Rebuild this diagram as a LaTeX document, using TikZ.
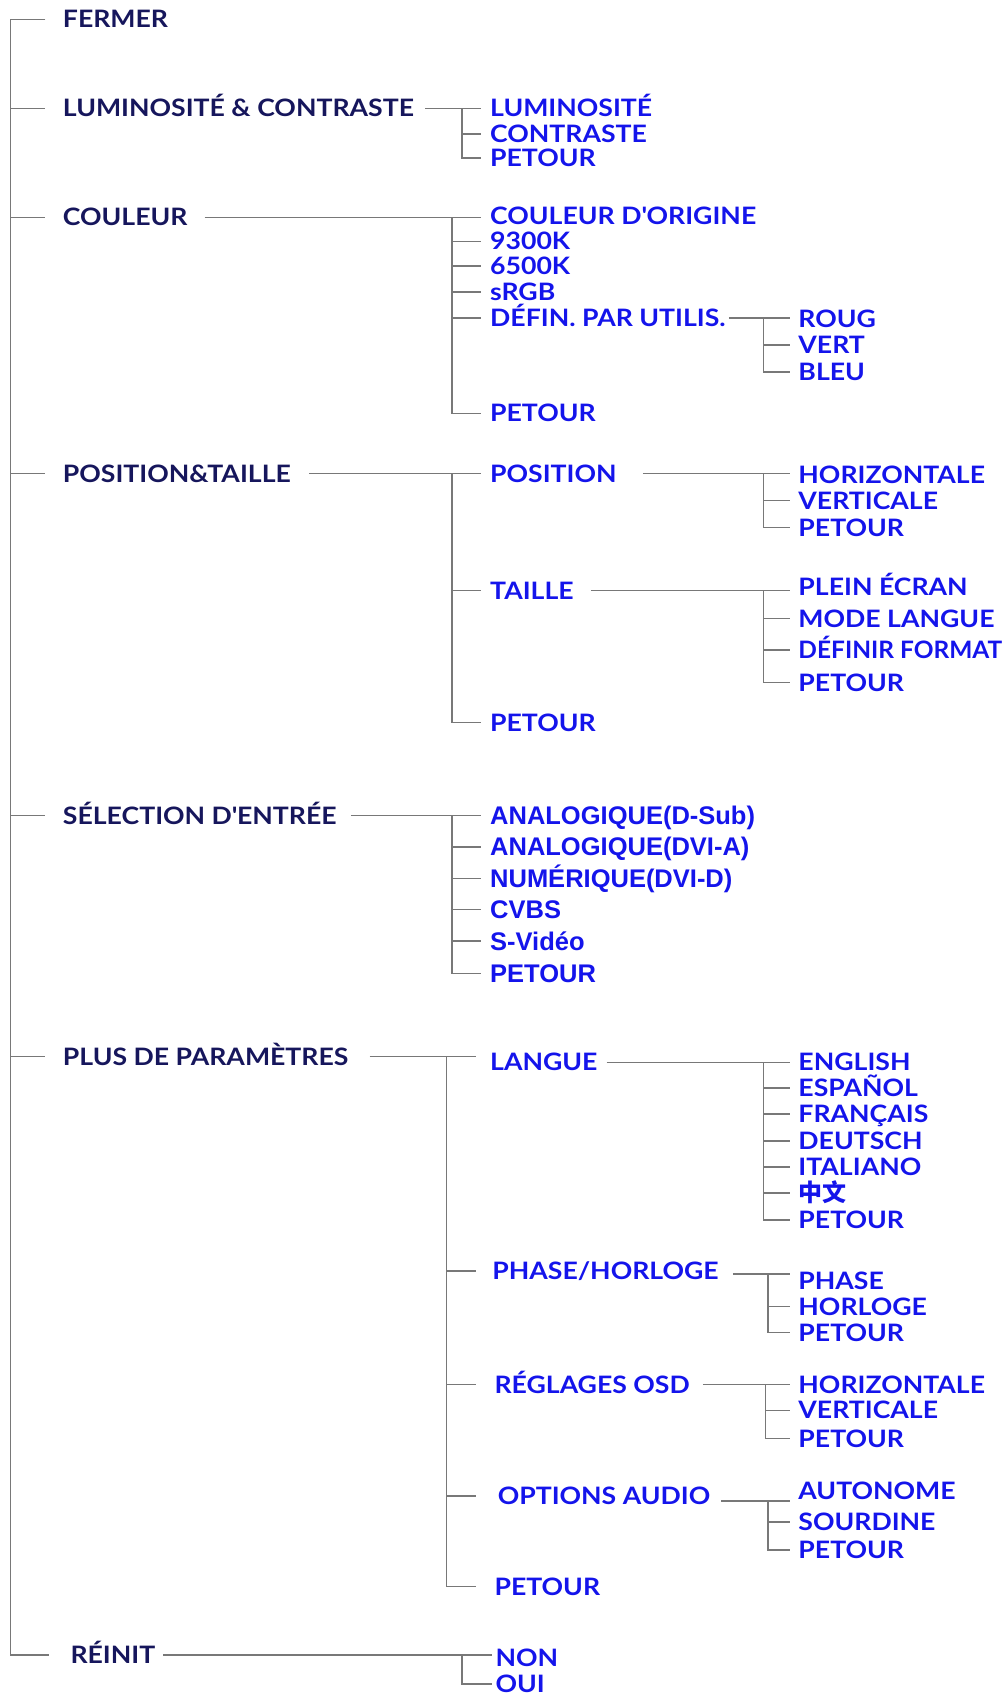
\documentclass[tikz,border=0pt]{standalone}
\usepackage{fontspec}
\newfontfamily\gill{Lato}[FakeStretch=1.11]
\newfontfamily\gillN{Lato}[FakeStretch=1.02]
\newfontfamily\arialf{Liberation Sans}
\newfontfamily\cjk{Noto Sans CJK SC}
\definecolor{navy}{RGB}{22,22,92}
\definecolor{menublue}{RGB}{20,20,235}
\definecolor{lncol}{RGB}{120,120,120}
\tikzset{
  ln/.style={draw=lncol, line width=1.3pt},
  lvA/.style={anchor=west, inner sep=0pt, text height=17pt, text depth=0pt, text=navy, font=\gill\bfseries\fontsize{24pt}{24pt}\selectfont},
  lvB/.style={anchor=west, inner sep=0pt, text height=17pt, text depth=0pt, text=menublue, font=\gill\bfseries\fontsize{24pt}{24pt}\selectfont},
  lvC/.style={anchor=west, inner sep=0pt, text height=18pt, text depth=0pt, text=menublue, font=\arialf\bfseries\fontsize{25.5pt}{25.5pt}\selectfont},
}
\begin{document}
\begin{tikzpicture}[x=1.0817pt, y=-1.0817pt]
\useasboundingbox (0,0) rectangle (930,1568);
% junction / tick-end columns
\coordinate (J0) at (10,0);   \coordinate (E0) at (42,0);  \coordinate (E0r) at (45,0);
\coordinate (J1) at (427,0);  \coordinate (E1) at (445,0);
\coordinate (J2) at (418,0);  \coordinate (E2) at (445,0);
\coordinate (J3) at (706,0);  \coordinate (E3) at (730,0);
\coordinate (J4) at (413,0);  \coordinate (E4) at (440,0);
\coordinate (J5) at (710,0);  \coordinate (J6) at (708,0);
\coordinate (E5) at (455,0);

% level 1
\node[lvA] (fer)  at (58,18)   {FERMER};
\node[lvA] (lum)  at (58,100)  {LUMINOSITÉ \& CONTRASTE};
\node[lvA] (cou)  at (58,201)  {COULEUR};
\node[lvA] (pos)  at (58,438)  {POSITION\&TAILLE};
\node[lvA] (sel)  at (58,754)  {SÉLECTION D\textquotesingle ENTRÉE};
\node[lvA] (plus) at (58,977)  {PLUS DE PARAMÈTRES};
\node[lvA] (rei)  at (65,1530) {RÉINIT};

% luminosite
\node[lvB] (lum1) at (453,100) {LUMINOSITÉ};
\node[lvB] (lum2) at (453,124) {CONTRASTE};
\node[lvB] (lum3) at (453,146) {PETOUR};

% couleur
\node[lvB] (c1) at (453,200) {COULEUR D\textquotesingle ORIGINE};
\node[lvB] (c2) at (453,223) {9300K};
\node[lvB] (c3) at (453,246) {6500K};
\node[lvB] (c4) at (453,270) {sRGB};
\node[lvB] (c5) at (453,294) {DÉFIN. PAR UTILIS.};
\node[lvB] (c6) at (453,382) {PETOUR};
\node[lvB] (r1) at (738,295) {ROUG};
\node[lvB] (r2) at (738,319) {VERT};
\node[lvB] (r3) at (738,344) {BLEU};

% position & taille
\node[lvB] (p1) at (453,438) {POSITION};
\node[lvB] (p2) at (453,546) {TAILLE};
\node[lvB] (p3) at (453,668) {PETOUR};
\node[lvB] (ph1) at (738,439) {HORIZONTALE};
\node[lvB] (ph2) at (738,463) {VERTICALE};
\node[lvB] (ph3) at (738,488) {PETOUR};
\node[lvB] (t1) at (738,543) {PLEIN ÉCRAN};
\node[lvB] (t2) at (738,572) {MODE LANGUE};
\node[lvB, font=\gillN\bfseries\fontsize{24pt}{24pt}\selectfont] (t3) at (738,601) {DÉFINIR FORMAT};
\node[lvB] (t4) at (738,631) {PETOUR};

% selection d'entree
\node[lvC] (s1) at (453,754) {ANALOGIQUE(D-Sub)};
\node[lvC] (s2) at (453,783) {ANALOGIQUE(DVI-A)};
\node[lvC] (s3) at (453,812) {NUMÉRIQUE(DVI-D)};
\node[lvC] (s4) at (453,841) {CVBS};
\node[lvC] (s5) at (453,870) {S-Vidéo};
\node[lvC] (s6) at (453,900) {PETOUR};

% plus de parametres
\node[lvB] (m1) at (453,982)  {LANGUE};
\node[lvB] (m2) at (455,1175) {PHASE/HORLOGE};
\node[lvB] (m3) at (457,1280) {RÉGLAGES OSD};
\node[lvB] (m4) at (460,1383) {OPTIONS AUDIO};
\node[lvB] (m5) at (457,1467) {PETOUR};
\node[lvB] (g1) at (738,982)  {ENGLISH};
\node[lvB] (g2) at (738,1006) {ESPAÑOL};
\node[lvB] (g3) at (738,1030) {FRANÇAIS};
\node[lvB] (g4) at (738,1055) {DEUTSCH};
\node[lvB] (g5) at (738,1079) {ITALIANO};
\node[lvB, font=\cjk\bfseries\fontsize{24pt}{24pt}\selectfont] (g6) at (738,1103) {中文};
\node[lvB] (g7) at (738,1128) {PETOUR};
\node[lvB] (h1) at (738,1184) {PHASE};
\node[lvB] (h2) at (738,1208) {HORLOGE};
\node[lvB] (h3) at (738,1232) {PETOUR};
\node[lvB] (o1) at (738,1280) {HORIZONTALE};
\node[lvB] (o2) at (738,1304) {VERTICALE};
\node[lvB] (o3) at (738,1330) {PETOUR};
\node[lvB] (a1) at (738,1378) {AUTONOME};
\node[lvB] (a2) at (738,1407) {SOURDINE};
\node[lvB] (a3) at (738,1433) {PETOUR};

% reinit
\node[lvB] (n1) at (458,1533) {NON};
\node[lvB] (n2) at (458,1557) {OUI};

% ---- connectors ----
% main trunk
\draw[ln] (E0 |- fer.west) -- (J0 |- fer.west) |- (E0r |- rei.west);
\foreach \n in {lum,cou,pos,sel,plus} \draw[ln] (J0 |- \n.west) -- (E0 |- \n.west);

% luminosite
\draw[ln] ([xshift=11pt]lum.east) -- (E1 |- lum.west);
\draw[ln] (J1 |- lum.west) |- (E1 |- lum3.west);
\draw[ln] (J1 |- lum2.west) -- (E1 |- lum2.west);

% couleur
\draw[ln] ([xshift=17pt]cou.east) -- (E2 |- cou.west);
\draw[ln] (J2 |- cou.west) |- (E2 |- c6.west);
\foreach \n in {c2,c3,c4,c5} \draw[ln] (J2 |- \n.west) -- (E2 |- \n.west);
\draw[ln] ([xshift=3pt]c5.east) -- (E3 |- c5.west);
\draw[ln] (J3 |- c5.west) |- (E3 |- r3.west);
\draw[ln] (J3 |- r2.west) -- (E3 |- r2.west);

% position & taille
\draw[ln] ([xshift=18pt]pos.east) -- (E2 |- pos.west);
\draw[ln] (J2 |- pos.west) |- (E2 |- p3.west);
\draw[ln] (J2 |- p2.west) -- (E2 |- p2.west);
\draw[ln] ([xshift=26pt]p1.east) -- (E3 |- p1.west);
\draw[ln] (J3 |- p1.west) |- (E3 |- ph3.west);
\draw[ln] (J3 |- ph2.west) -- (E3 |- ph2.west);
\draw[ln] ([xshift=17pt]p2.east) -- (E3 |- p2.west);
\draw[ln] (J3 |- p2.west) |- (E3 |- t4.west);
\foreach \n in {t2,t3} \draw[ln] (J3 |- \n.west) -- (E3 |- \n.west);

% selection
\draw[ln] ([xshift=14pt]sel.east) -- (E2 |- sel.west);
\draw[ln] (J2 |- sel.west) |- (E2 |- s6.west);
\foreach \n in {s2,s3,s4,s5} \draw[ln] (J2 |- \n.west) -- (E2 |- \n.west);

% plus de parametres
\draw[ln] ([xshift=21pt]plus.east) -- (E4 |- plus.west);
\draw[ln] (J4 |- plus.west) |- (E4 |- m5.west);
\foreach \n in {m2,m3,m4} \draw[ln] (J4 |- \n.west) -- (E4 |- \n.west);
\draw[ln] ([xshift=9pt]m1.east) -- (E3 |- m1.west);
\draw[ln] (J3 |- m1.west) |- (E3 |- g7.west);
\foreach \n in {g2,g3,g4,g5,g6} \draw[ln] (J3 |- \n.west) -- (E3 |- \n.west);
\coordinate (hL) at ([yshift=-3pt]m2.east);
\draw[ln] ([xshift=14pt]hL) -- (E3 |- hL);
\draw[ln] (J5 |- hL) |- (E3 |- h3.west);
\draw[ln] (J5 |- h2.west) -- (E3 |- h2.west);
\draw[ln] ([xshift=13pt]m3.east) -- (E3 |- m3.west);
\draw[ln] (J6 |- m3.west) |- (E3 |- o3.west);
\draw[ln] (J6 |- o2.west) -- (E3 |- o2.west);
\coordinate (aL) at ([yshift=-5pt]m4.east);
\draw[ln] ([xshift=11pt]aL) -- (E3 |- aL);
\draw[ln] (J5 |- aL) |- (E3 |- a3.west);
\draw[ln] (J5 |- a2.west) -- (E3 |- a2.west);

% reinit
\draw[ln] ([xshift=8pt]rei.east) -- (E5 |- rei.west);
\draw[ln] (J1 |- rei.west) |- (E5 |- n2.west);
\end{tikzpicture}
\end{document}
